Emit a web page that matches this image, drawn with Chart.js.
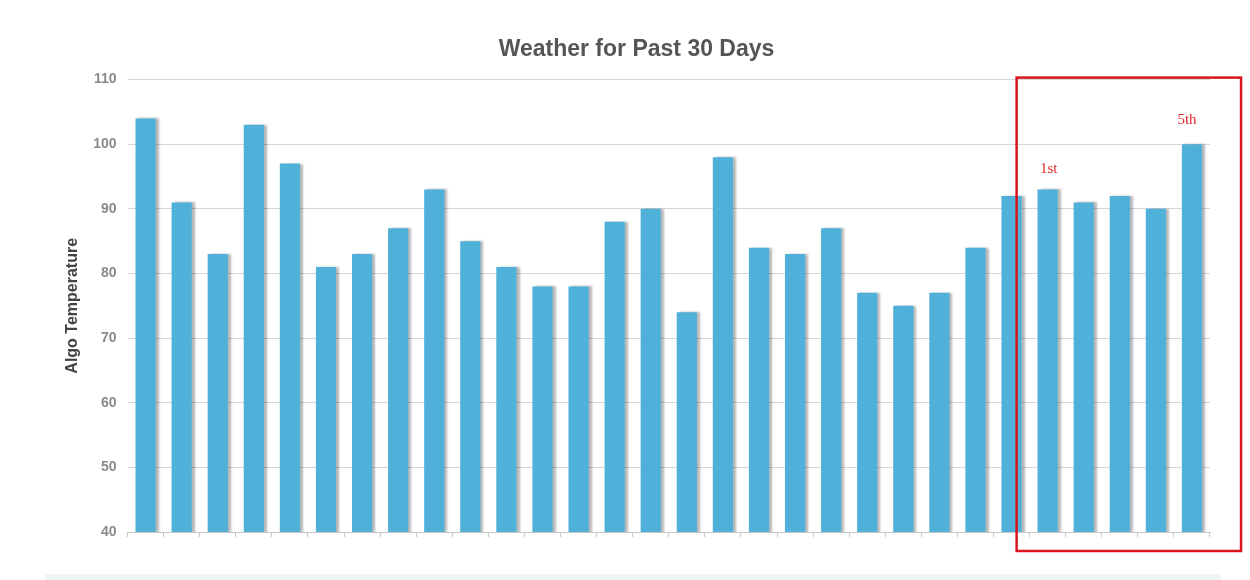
<!DOCTYPE html>
<html>
<head>
<meta charset="utf-8">
<script src="https://cdn.jsdelivr.net/npm/chart.js@4/dist/chart.umd.min.js"></script>
<style>
  html, body { margin: 0; padding: 0; background: #fff; }
  #wrap { position: relative; width: 1250px; height: 580px; }
  #strip { position: absolute; left: 45px; top: 574px; width: 1176px; height: 6px; background: #eef5f5; }
</style>
</head>
<body>
<div id="wrap">
  <canvas id="chart1" width="1250" height="580"></canvas>
  <div id="strip"></div>
</div>
<script>
// 30 days of readings
const days = [];
for (let i = 1; i <= 30; i++) days.push('Day ' + i);
const temps = [104, 91, 83, 103, 97, 81, 83, 87, 93, 85, 81, 78, 78, 88, 90,
               74, 98, 84, 83, 87, 77, 75, 77, 84, 92, 93, 91, 92, 90, 100];
const yTicks = [40, 50, 60, 70, 80, 90, 100, 110];
// notes written above some bars: [bar index, text]
const notes = [[25, '1st'], [29, '5th']];
// highlighted range of bars (first, last)
const boxRange = [25, 29];

const barShadow = {
    id: 'barShadow',
    beforeDatasetsDraw(chart) {
        const ctx = chart.ctx;
        ctx.save();
        ctx.shadowColor = 'rgba(0,0,0,0.28)';
        ctx.shadowOffsetX = 3;
        ctx.shadowOffsetY = 0;
        ctx.shadowBlur = 2;
    },
    afterDatasetsDraw(chart) {
        chart.ctx.restore();
    }
};

const redMarks = {
    id: 'redMarks',
    afterDraw(chart) {
        const ctx = chart.ctx;
        const x = chart.scales.x, y = chart.scales.y;
        const meta = chart.getDatasetMeta(0);
        const nudge = [[1, -13], [-5, -17]];
        ctx.save();
        // notes
        ctx.fillStyle = '#e0262b';
        ctx.font = '15px "Liberation Serif", "DejaVu Serif", serif';
        ctx.textAlign = 'center';
        ctx.textBaseline = 'bottom';
        notes.forEach((n, i) => {
            const bar = meta.data[n[0]];
            ctx.fillText(n[1], bar.x + nudge[i][0], bar.y + nudge[i][1]);
        });
        // box
        const step = x.getPixelForValue(1) - x.getPixelForValue(0);
        const left = x.getPixelForValue(boxRange[0]) - step * 0.86;
        const right = x.getPixelForValue(boxRange[1]) + step * 1.36;
        const top = y.getPixelForValue(110) - 2;
        const bottom = y.getPixelForValue(40) + 19;
        ctx.strokeStyle = '#d9141c';
        ctx.lineWidth = 2.5;
        ctx.strokeRect(left, top, right - left, bottom - top);
        ctx.restore();
    }
};

const chart1 = new Chart(document.getElementById('chart1'), {
    type: 'bar',
    data: {
        labels: days,
        datasets: [{
            data: temps,
            backgroundColor: '#4fb1d9',
            borderWidth: 0,
            barPercentage: 0.56,
            categoryPercentage: 1
        }]
    },
    options: {
        responsive: false,
        animation: false,
        layout: { padding: { left: 63, right: 40, top: 0, bottom: 43 } },
        plugins: {
            legend: { display: false },
            tooltip: { enabled: false },
            title: {
                display: true,
                text: 'Weather for Past 30 Days',
                color: '#555',
                font: { family: 'Arial, "Liberation Sans", sans-serif', size: 23, weight: 'bold' },
                padding: { top: 36, bottom: 16 }
            }
        },
        scales: {
            x: {
                offset: true,
                grid: {
                    display: true,
                    offset: true,
                    drawOnChartArea: false,
                    drawTicks: true,
                    tickLength: 5,
                    color: '#c8c8c8'
                },
                border: { display: true, color: '#c8c8c8' },
                ticks: { display: false }
            },
            y: {
                min: 40,
                max: 110,
                afterBuildTicks(axis) {
                    axis.ticks = yTicks.map(v => ({ value: v }));
                },
                grid: { color: '#d6d6d6', drawTicks: false },
                border: { display: false },
                ticks: {
                    color: '#8a8a8a',
                    padding: 11,
                    font: { family: 'Arial, "Liberation Sans", sans-serif', size: 14, weight: 'bold' }
                },
                title: {
                    display: true,
                    text: 'Algo Temperature',
                    color: '#444',
                    padding: { top: 0, bottom: 0 },
                    font: { family: 'Arial, "Liberation Sans", sans-serif', size: 16, weight: 'bold' }
                }
            }
        }
    },
    plugins: [barShadow, redMarks]
});
</script>
</body>
</html>
